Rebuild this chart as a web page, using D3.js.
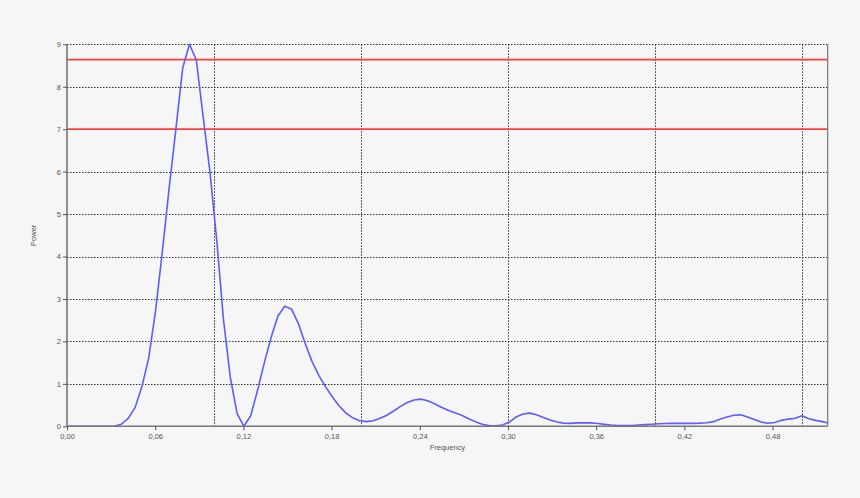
<!DOCTYPE html>
<html><head><meta charset="utf-8">
<script src="https://cdn.jsdelivr.net/npm/d3@7"></script>
<style>
html,body{margin:0;padding:0;background:#f6f6f6;}
svg{display:block;font-family:"Liberation Sans",Arial,sans-serif;}
</style></head>
<body>
<svg id="chart" width="860" height="498"></svg>
<script>
// ---- data ----
const freqStep = 1 / 216;            // sampling interval of the spectrum
const power = [
  0,0,0,0,0,0,0,0.005,0.05,0.19,
  0.44,0.93,1.6,2.7,4.1,5.6,7.0,8.44,9.0,8.63,
  7.3,6.0,4.39,2.5,1.15,0.3,0.0,0.25,0.85,1.5,
  2.1,2.6,2.83,2.76,2.42,1.95,1.53,1.2,0.93,0.69,
  0.48,0.31,0.2,0.13,0.11,0.13,0.19,0.26,0.36,0.47,
  0.56,0.62,0.64,0.6,0.53,0.45,0.38,0.32,0.26,0.18,
  0.11,0.05,0.02,0.01,0.03,0.1,0.22,0.29,0.31,0.27,
  0.21,0.15,0.1,0.075,0.07,0.08,0.085,0.08,0.065,0.045,
  0.03,0.02,0.015,0.02,0.03,0.04,0.05,0.06,0.065,0.07,
  0.07,0.07,0.07,0.075,0.085,0.11,0.17,0.22,0.26,0.27,
  0.22,0.16,0.1,0.07,0.09,0.14,0.17,0.19,0.25,0.18,
  0.14,0.11,0.07
];
const frequency = power.map((_, i) => i * freqStep);
const xTickValues = [0, 0.06, 0.12, 0.18, 0.24, 0.30, 0.36, 0.42, 0.48];
const yTickValues = [0, 1, 2, 3, 4, 5, 6, 7, 8, 9];
const xGridValues = [0.1, 0.2, 0.3, 0.4, 0.5];
const significanceLevels = [7.0, 8.64];
const xLabel = "Frequency";
const yLabel = "Power";

// ---- layout ----
const svg = d3.select("#chart");
const L = 67, R = 827.7, T = 44.3, B = 426.3;
const x = d3.scaleLinear().domain([0, 0.5175]).range([L, R]);
const y = d3.scaleLinear().domain([0, 9]).range([B, T]);

svg.append("rect").attr("width", 860).attr("height", 498).attr("fill", "#f6f6f6");

svg.append("defs").append("clipPath").attr("id", "clip")
  .append("rect").attr("x", L).attr("y", T - 2).attr("width", R - L).attr("height", B - T + 2);

// grid
const grid = svg.append("g").attr("stroke", "#333").attr("stroke-width", 1)
  .attr("stroke-dasharray", "1.5,1.5").attr("fill", "none");
grid.selectAll("line.h").data(yTickValues.filter(d => d > 0)).join("line")
  .attr("class", "h").attr("x1", L).attr("x2", R)
  .attr("y1", d => Math.round(y(d)) + 0.5).attr("y2", d => Math.round(y(d)) + 0.5);
grid.selectAll("line.v").data(xGridValues).join("line")
  .attr("class", "v").attr("y1", T).attr("y2", B)
  .attr("x1", d => Math.round(x(d)) + 0.5).attr("x2", d => Math.round(x(d)) + 0.5);

// significance lines
svg.append("g").selectAll("line").data(significanceLevels).join("line")
  .attr("x1", L).attr("x2", R)
  .attr("y1", d => y(d)).attr("y2", d => y(d))
  .attr("stroke", "#ff3c3c").attr("stroke-width", 1.8);

// spectrum
const line = d3.line().x((d, i) => x(frequency[i])).y(d => y(d));
svg.append("path").datum(power)
  .attr("clip-path", "url(#clip)")
  .attr("d", line).attr("fill", "none")
  .attr("stroke", "#5c5cff").attr("stroke-width", 1.6)
  .attr("stroke-linejoin", "round");

// axes
const fmt = d => d3.format(".2f")(d).replace(".", ",");
const xAxis = svg.append("g").attr("transform", `translate(0,${B})`)
  .call(d3.axisBottom(x).tickValues(xTickValues).tickFormat(fmt).tickSize(4).tickPadding(3));
const yAxis = svg.append("g").attr("transform", `translate(${L},0)`)
  .call(d3.axisLeft(y).tickValues(yTickValues).tickFormat(d3.format("d")).tickSize(4).tickPadding(2));
[xAxis, yAxis].forEach(a => {
  a.select(".domain").attr("stroke", "#777").attr("stroke-width", 1.6);
  a.selectAll(".tick line").attr("stroke", "#555");
  a.selectAll(".tick text").attr("fill", "#555").attr("font-size", 7.5)
    .attr("font-family", "'Liberation Sans', Arial, sans-serif");
});
yAxis.select(".domain").attr("d", `M0,${B}V${T}`);
xAxis.select(".domain").attr("d", `M${L},0H${R}`);

// right border
svg.append("line").attr("x1", R).attr("x2", R).attr("y1", T).attr("y2", B)
  .attr("stroke", "#777").attr("stroke-width", 1.2);

// axis titles
svg.append("text").attr("x", (L + R) / 2).attr("y", 450)
  .attr("text-anchor", "middle").attr("font-size", 7.5).attr("fill", "#555").text(xLabel);
svg.append("text").attr("transform", `translate(36,${(T + B) / 2}) rotate(-90)`)
  .attr("text-anchor", "middle").attr("font-size", 7.5).attr("fill", "#555").text(yLabel);
</script>
</body></html>
